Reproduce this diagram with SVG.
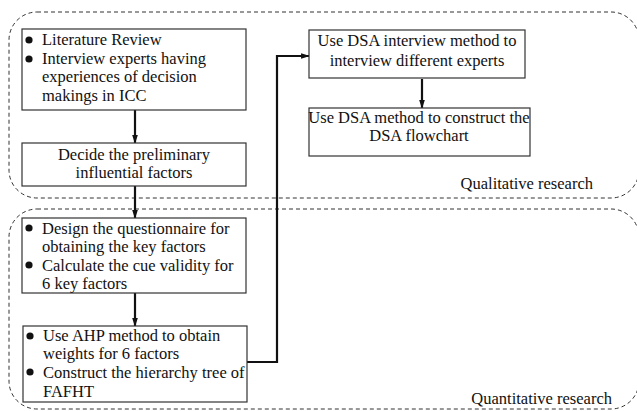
<svg xmlns="http://www.w3.org/2000/svg" width="637" height="411" viewBox="0 0 637 411">
<defs>
<style>
.reg{fill:none;stroke:#333;stroke-width:1;stroke-dasharray:4 3}
.box{fill:#fff;stroke:#333;stroke-width:1.2}
text{font-family:'Liberation Serif','Times New Roman',serif;font-size:16.5px;fill:#111}
.c{text-anchor:middle}
.conn{fill:none;stroke:#111;stroke-width:2.2}
.dot{fill:#111}
</style>
<marker id="ah" viewBox="0 0 10 10" refX="9" refY="5" markerWidth="4" markerHeight="4" orient="auto" markerUnits="strokeWidth">
<path d="M0,1.8 L10,5 L0,8.2 z" fill="#111"/>
</marker>
</defs>
<rect width="637" height="411" fill="#fff"/>
<g font-family="Liberation Serif, Times New Roman, serif" font-size="16.5">
<g id="region-qual">
<rect class="reg" x="9" y="12" width="630" height="186" rx="28" ry="28"/>
<text x="593" y="189" text-anchor="end">Qualitative research</text>
</g>
<g id="region-quant">
<rect class="reg" x="9" y="209" width="630" height="200" rx="28" ry="28"/>
<text x="612" y="404" text-anchor="end">Quantitative research</text>
</g>
<g id="connectors">
<line class="conn" x1="135" y1="110" x2="135" y2="143" marker-end="url(#ah)"/>
<line class="conn" x1="135" y1="186" x2="135" y2="218" marker-end="url(#ah)"/>
<line class="conn" x1="135" y1="293" x2="135" y2="326" marker-end="url(#ah)"/>
<line class="conn" x1="422" y1="79" x2="422" y2="108" marker-end="url(#ah)"/>
<polyline class="conn" points="247,362 277,362 277,56 309,56" marker-end="url(#ah)"/>
</g>
<g id="n1">
<rect class="box" x="22" y="29" width="224" height="81"/>
<circle class="dot" cx="29" cy="40" r="3.6"/>
<circle class="dot" cx="29" cy="59" r="3.6"/>
<text x="42" y="45">Literature Review</text>
<text x="42" y="64">Interview experts having</text>
<text x="42" y="82">experiences of decision</text>
<text x="42" y="101">makings in ICC</text>
</g>
<g id="n2">
<rect class="box" x="22" y="143" width="224" height="43"/>
<text class="c" x="134" y="160">Decide the preliminary</text>
<text class="c" x="134" y="178">influential factors</text>
</g>
<g id="n3">
<rect class="box" x="22" y="218" width="224" height="75"/>
<circle class="dot" cx="29" cy="228" r="3.6"/>
<circle class="dot" cx="29" cy="265" r="3.6"/>
<text x="42" y="234">Design the questionnaire for</text>
<text x="42" y="252">obtaining the key factors</text>
<text x="42" y="271">Calculate the cue validity for</text>
<text x="42" y="289">6 key factors</text>
</g>
<g id="n4">
<rect class="box" x="23" y="326" width="224" height="76"/>
<circle class="dot" cx="30" cy="336" r="3.6"/>
<circle class="dot" cx="30" cy="372" r="3.6"/>
<text x="43" y="341">Use AHP method to obtain</text>
<text x="43" y="359">weights for 6 factors</text>
<text x="43" y="378">Construct the hierarchy tree of</text>
<text x="43" y="397">FAFHT</text>
</g>
<g id="n5">
<rect class="box" x="309" y="30" width="216" height="48"/>
<text class="c" x="417" y="46">Use DSA interview method to</text>
<text class="c" x="417" y="66">interview different experts</text>
</g>
<g id="n6">
<rect class="box" x="309" y="108" width="221" height="48"/>
<text class="c" x="419" y="123">Use DSA method to construct the</text>
<text class="c" x="419" y="141">DSA flowchart</text>
</g>
</g>
</svg>
